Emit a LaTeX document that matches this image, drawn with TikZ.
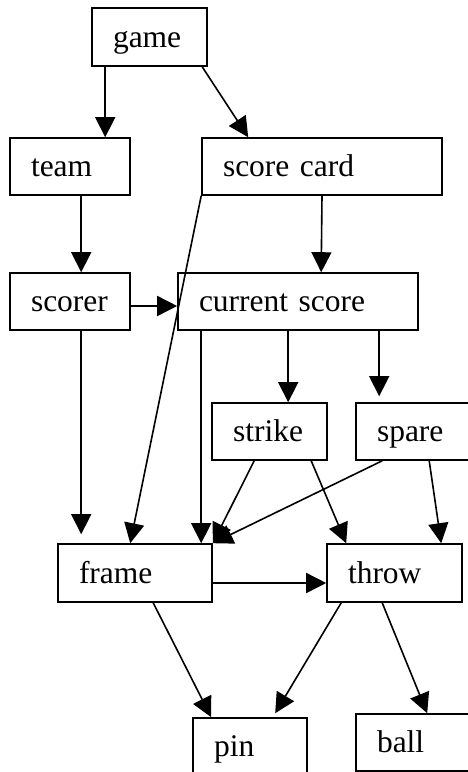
\documentclass[tikz,border=0pt]{standalone}
\usepackage{fontspec}
\setmainfont{Liberation Serif}
\usetikzlibrary{arrows.meta}
\begin{document}
\begin{tikzpicture}[x=1pt,y=-1pt,
  box/.style={draw, line width=1.6pt, rectangle, inner xsep=21pt, inner ysep=0pt,
    align=left, text height=22pt, text depth=2pt, minimum height=57pt,
    font=\fontsize{31.5}{38}\selectfont},
  edge/.style={line width=1.6pt, -{Triangle[length=20pt,width=20pt]}}]
  \fill[white] (0,0) rectangle (467,772);
  \useasboundingbox (0,0) rectangle (467,772);

  % classes
  \node[box, text width=73pt, minimum height=58pt] (game)      at (149.5,37)   {game};
  \node[box, text width=78pt]                      (team)      at (70,166.5)   {team};
  \node[box, text width=198pt]                     (scorecard) at (322,166.5)  {score card};
  \node[box, text width=78pt]                      (scorer)    at (70,301.5)   {scorer};
  \node[box, text width=198pt]                     (current)   at (298,301.5)  {current score};
  \node[box, text width=73pt]                      (strike)    at (269.5,431.5){strike};
  \node[box, text width=72pt]                      (spare)     at (413,431.5)  {spare};
  \node[box, text width=112pt, minimum height=58pt](frame)     at (135,573)    {frame};
  \node[box, text width=93pt, minimum height=58pt] (throw)     at (394.5,573)  {throw};
  \node[box, text width=72pt]                      (pin)       at (250,746.5)  {pin};
  \node[box, text width=72pt]                      (ball)      at (413,742.5)  {ball};

  % associations
  \draw[edge] ([xshift=14]game.south west) -- ([xshift=96]team.north west);
  \draw[edge] ([xshift=111]game.south west) -- ([xshift=47]scorecard.north west);
  \draw[edge] ([xshift=72]team.south west) -- ([xshift=72]scorer.north west);
  \draw[edge] (scorecard.south) -- ([xshift=144]current.north west);
  \draw[edge] (scorecard.south west) -- ([xshift=73]frame.north west);
  \draw[edge] ([yshift=-4.5]scorer.east) -- ([yshift=-4.5]current.west);
  \draw[edge] ([xshift=72]scorer.south west) -- ([xshift=24,yshift=9]frame.north west);
  \draw[edge] ([xshift=24]current.south west) -- ([xshift=144]frame.north west);
  \draw[edge] ([xshift=111]current.south west) -- ([xshift=77]strike.north west);
  \draw[edge] ([xshift=202]current.south west) -- ([xshift=24,yshift=6]spare.north west);
  \draw[edge] ([xshift=43]strike.south west) -- (frame.north east);
  \draw[edge] ([xshift=27]spare.south west) -- (frame.north east);
  \draw[edge] ([xshift=100]strike.south west) -- ([xshift=20]throw.north west);
  \draw[edge] ([xshift=74]spare.south west) -- ([xshift=115]throw.north west);
  \draw[edge] ([yshift=-10]frame.east) -- ([yshift=-10]throw.west);
  \draw[edge] ([xshift=96]frame.south west) -- ([xshift=19]pin.north west);
  \draw[edge] ([xshift=15]throw.south west) -- ([xshift=83,yshift=4]pin.north west);
  \draw[edge] ([xshift=56]throw.south west) -- ([xshift=72]ball.north west);
\end{tikzpicture}
\end{document}
